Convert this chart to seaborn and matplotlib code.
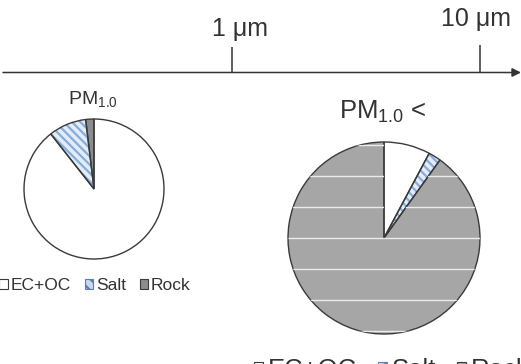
import matplotlib
matplotlib.use("Agg")
import matplotlib.pyplot as plt
from matplotlib.patches import Patch
import seaborn as sns

# ---------------- data ----------------
categories = ["EC+OC", "Salt", "Rock"]
fine_values = [89.4, 8.7, 1.9]        # PM1.0
coarse_values = [7.8, 2.1, 90.1]      # PM1.0 <
fine_title = r"$\mathregular{PM_{1.0}}$"
coarse_title = r"$\mathregular{PM_{1.0}}$ <"
size_labels = ["1 μm", "10 μm"]

# ---------------- style ----------------
sns.set_theme(style="white")
plt.rcParams["font.family"] = ["Liberation Sans", "DejaVu Sans"]
plt.rcParams["mathtext.fontset"] = "custom"
plt.rcParams["mathtext.rm"] = "Liberation Sans"
plt.rcParams["hatch.linewidth"] = 1.6

W, H = 521, 364
TXT = "#333333"
EDGE = "#3a3a3a"
SALT_FACE = "#e4ecf7"
SALT_HATCH = "#86acdc"

fig = plt.figure(figsize=(W / 100, H / 100), dpi=100)
ax = fig.add_axes([0, 0, 1, 1])


def Y(y):
    return H - y


# ---------------- size axis ----------------
ax.annotate("", xy=(521, Y(72.5)), xytext=(3, Y(72.5)),
            arrowprops=dict(arrowstyle="-|>", color=TXT, lw=1.1,
                            mutation_scale=13, shrinkA=0, shrinkB=0))
tick_x = [231.5, 480]
tick_top = [47, 45]
ax.vlines(tick_x, [Y(72.5)] * 2, [Y(t) for t in tick_top], color=TXT, lw=1.1)
ax.text(239.5, Y(36), size_labels[0], ha="center", va="baseline",
        fontsize=18, color=TXT)
ax.text(476, Y(26), size_labels[1], ha="center", va="baseline",
        fontsize=18, color=TXT)


# ---------------- pies ----------------
def draw_pie(values, center, radius, colors, rock_lines=False):
    hatches = ["", "\\\\\\\\", ""]
    wedges, _ = ax.pie(values, colors=colors, startangle=90, counterclock=False,
                       center=center, radius=radius, hatch=hatches, frame=True,
                       wedgeprops=dict(linewidth=0))
    for w in wedges:
        w.set_edgecolor(SALT_HATCH)
        w.set_linewidth(0)
    if rock_lines:
        rock = wedges[2]
        for off in [-93, -62, -31, 0, 31, 62, 93]:
            ln = ax.hlines(center[1] + off, center[0] - radius, center[0] + radius,
                           color="#ececec", lw=1.0)
            ln.set_clip_path(rock)
    ax.pie(values, colors=["none"] * 3, startangle=90, counterclock=False,
           center=center, radius=radius, frame=True,
           wedgeprops=dict(linewidth=1.0, edgecolor=EDGE, fill=False))
    return wedges


draw_pie(fine_values, (94, Y(189)), 70, ["white", SALT_FACE, "#8c8c8c"])
draw_pie(coarse_values, (384, Y(238)), 96, ["white", SALT_FACE, "#a6a6a6"],
         rock_lines=True)

ax.text(93, Y(104), fine_title, ha="center", va="baseline", fontsize=14, color=TXT)
ax.text(383, Y(119), coarse_title, ha="center", va="baseline", fontsize=18.5, color=TXT)


# ---------------- legends ----------------
def handles(rock_color):
    return [
        Patch(facecolor="white", edgecolor=EDGE, lw=0.8, label=categories[0]),
        Patch(facecolor="#c6d9f1", edgecolor="#5a7fb0", lw=0.8, hatch="\\\\\\",
              label=categories[1]),
        Patch(facecolor=rock_color, edgecolor=EDGE, lw=0.8, label=categories[2]),
    ]


leg1 = ax.legend(handles=handles("#8c8c8c"), loc="center",
                 bbox_to_anchor=(95, Y(285.5)), bbox_transform=ax.transData,
                 ncol=3, frameon=False, fontsize=12.5, handlelength=0.5,
                 handleheight=0.5, handletextpad=0.15, columnspacing=0.8,
                 borderpad=0, labelcolor=TXT)
ax.add_artist(leg1)
ax.legend(handles=handles("#a6a6a6"), loc="center",
          bbox_to_anchor=(392, Y(370)), bbox_transform=ax.transData,
          ncol=3, frameon=False, fontsize=18.5, handlelength=0.35,
          handleheight=0.35, handletextpad=0.2, columnspacing=0.8,
          borderpad=0, labelcolor=TXT)

ax.set_xlim(0, W)
ax.set_ylim(0, H)
ax.set_aspect("auto")
ax.axis("off")

fig.savefig("out.png", dpi=100)
